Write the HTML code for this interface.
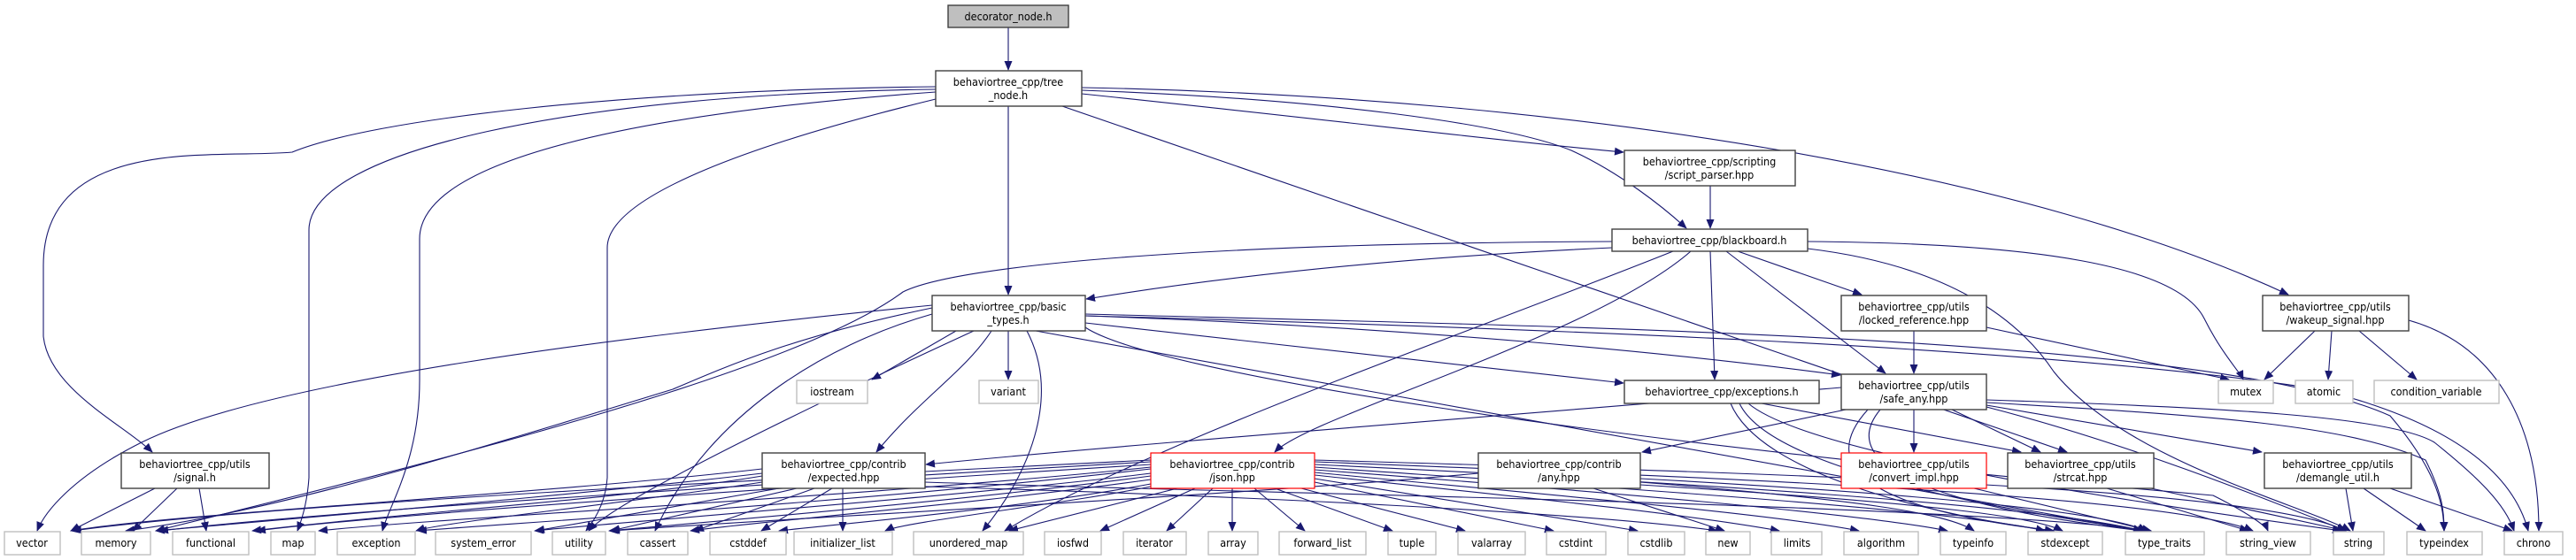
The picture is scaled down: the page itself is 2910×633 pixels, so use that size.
<!DOCTYPE html>
<html><head><meta charset="utf-8"><style>
html,body{margin:0;padding:0;background:#fff;}
svg{display:block;}
text{font-family:"DejaVu Sans Condensed","DejaVu Sans","Liberation Sans",sans-serif;font-size:12.5px;fill:#000;text-anchor:middle;font-stretch:condensed;}
.e{fill:none;stroke:#191970;stroke-width:1.1;marker-end:url(#a);}
.n{fill:#fff;stroke:#404040;stroke-width:1.4;}
.g{fill:#fff;stroke:#bfbfbf;stroke-width:1.4;}
.r{fill:#fff;stroke:#ff0000;stroke-width:1.2;}
</style></head><body>
<svg width="2910" height="633" viewBox="0 0 2910 633" xmlns="http://www.w3.org/2000/svg">
<defs><marker id="a" markerWidth="11" markerHeight="9" refX="10" refY="4.5" orient="auto" markerUnits="userSpaceOnUse"><path d="M0,0 L11,4.5 L0,9z" fill="#191970"/></marker></defs>

<!-- edges -->
<path class="e" d="M1139,31 L1139,79"/>
<path class="e" d="M1057,98 C700,102 420,135 330,172 C250,180 49,150 49,300 L49,380 C55,440 140,480 172,511"/>
<path class="e" d="M1057,101 C650,106 349,170 349,260 L349,540 C347,570 340,590 336,600"/>
<path class="e" d="M1057,104 C720,128 474,180 474,270 L474,430 C474,520 440,570 432,600"/>
<path class="e" d="M1057,112 C860,160 686,220 686,280 L686,540 C684,570 670,590 662,600"/>
<path class="e" d="M1139,120 L1139,333"/>
<path class="e" d="M1222,106 C1500,135 1700,160 1834,172"/>
<path class="e" d="M1222,102 C1500,112 1700,140 1775,170 C1830,195 1880,235 1905,258"/>
<path class="e" d="M1200,120 L2335,511"/>
<path class="e" d="M1222,99 C1800,110 2300,200 2585,333"/>
<path class="e" d="M1932,210 L1932,258"/>
<path class="e" d="M1821,280 C1600,290 1400,310 1227,338"/>
<path class="e" d="M1821,273 C1350,275 1080,300 1020,330 C900,420 500,520 176,600"/>
<path class="e" d="M1890,284 C1650,380 1300,500 1135,600"/>
<path class="e" d="M1910,284 C1800,380 1480,470 1440,511"/>
<path class="e" d="M1932,284 L1937,429"/>
<path class="e" d="M1963,284 L2103,333"/>
<path class="e" d="M1950,284 L2130,422"/>
<path class="e" d="M2042,281 C2200,300 2280,360 2320,420 C2400,520 2600,570 2655,600"/>
<path class="e" d="M2042,273 C2300,275 2460,300 2490,360 C2510,400 2530,420 2534,429"/>
<path class="e" d="M2162,374 L2162,422"/>
<path class="e" d="M2244,370 L2518,429"/>
<path class="e" d="M2615,374 L2558,429"/>
<path class="e" d="M2634,374 L2630,429"/>
<path class="e" d="M2665,374 L2730,429"/>
<path class="e" d="M2721,362 C2820,390 2868,480 2868,600"/>
<!-- basic_types -->
<path class="e" d="M1080,374 L985,429"/>
<path class="e" d="M1139,374 L1139,429"/>
<path class="e" d="M1226,365 L1834,433"/>
<path class="e" d="M1226,357 C1600,370 1900,400 2079,424"/>
<path class="e" d="M1226,357 C1700,370 2300,390 2620,440 C2780,480 2840,540 2856,600"/>
<path class="e" d="M1226,355 C1800,370 2500,380 2700,470 C2760,540 2760,580 2761,600"/>
<path class="e" d="M1160,374 C1200,450 1160,540 1110,600"/>
<path class="e" d="M1120,374 C1090,420 1040,450 990,511"/>
<path class="e" d="M1100,374 C1000,420 700,560 665,600"/>
<path class="e" d="M1170,374 L2420,600"/>
<path class="e" d="M1053,345 C700,380 300,430 160,500 C80,540 50,580 42,600"/>
<path class="e" d="M1053,348 C900,380 830,410 760,440 C500,520 300,580 142,600"/>
<path class="e" d="M1053,355 C930,390 800,470 740,600"/>
<path class="e" d="M1226,370 C1300,420 1800,500 2500,560 C2540,580 2560,595 2562,600"/>
<!-- signal -->
<path class="e" d="M175,552 L80,600"/>
<path class="e" d="M200,552 L150,600"/>
<path class="e" d="M225,552 L233,600"/>
<!-- expected -->
<path class="e" d="M861,530 C600,560 200,580 80,600"/>
<path class="e" d="M861,535 C650,560 400,580 176,600"/>
<path class="e" d="M861,538 C700,565 450,580 285,600"/>
<path class="e" d="M861,545 C700,570 500,590 470,600"/>
<path class="e" d="M880,552 L605,600"/>
<path class="e" d="M900,552 L690,600"/>
<path class="e" d="M920,552 L785,600"/>
<path class="e" d="M940,552 L860,600"/>
<path class="e" d="M952,552 L952,600"/>
<path class="e" d="M1045,545 C1500,560 2200,570 2430,600"/>
<path class="e" d="M1045,550 C1400,560 1800,580 1940,600"/>
<!-- json -->
<path class="e" d="M1300,520 C900,540 300,570 82,600"/>
<path class="e" d="M1300,522 C900,545 400,575 180,600"/>
<path class="e" d="M1300,525 C900,550 450,580 290,600"/>
<path class="e" d="M1300,528 C1000,560 500,585 360,600"/>
<path class="e" d="M1300,530 C1000,565 600,590 472,600"/>
<path class="e" d="M1300,535 C1100,560 700,590 604,600"/>
<path class="e" d="M1300,538 C1100,565 800,590 688,600"/>
<path class="e" d="M1300,542 C1100,570 850,590 780,600"/>
<path class="e" d="M1300,547 C1150,575 950,592 880,600"/>
<path class="e" d="M1300,550 C1200,570 1020,590 1000,600"/>
<path class="e" d="M1330,552 L1140,600"/>
<path class="e" d="M1350,552 L1243,600"/>
<path class="e" d="M1370,552 L1318,600"/>
<path class="e" d="M1392,552 L1392,600"/>
<path class="e" d="M1417,552 L1474,600"/>
<path class="e" d="M1440,552 L1573,600"/>
<path class="e" d="M1470,552 L1655,600"/>
<path class="e" d="M1485,545 L1755,600"/>
<path class="e" d="M1485,541 L1850,600"/>
<path class="e" d="M1485,537 C1700,560 1900,580 2010,600"/>
<path class="e" d="M1485,534 C1700,555 2000,580 2100,600"/>
<path class="e" d="M1485,531 C1800,555 2100,580 2200,600"/>
<path class="e" d="M1485,528 C1800,550 2200,575 2310,600"/>
<path class="e" d="M1485,525 C1900,545 2300,570 2420,600"/>
<path class="e" d="M1485,522 C1950,540 2450,560 2545,600"/>
<path class="e" d="M1485,520 C2000,535 2550,550 2650,600"/>
<!-- any -->
<path class="e" d="M1670,535 C1400,560 900,585 690,600"/>
<path class="e" d="M1800,552 L1948,600"/>
<path class="e" d="M1853,545 C2100,565 2200,580 2230,600"/>
<path class="e" d="M1853,548 C2200,570 2300,585 2330,600"/>
<path class="e" d="M1853,541 C2200,560 2380,580 2425,600"/>
<!-- exceptions -->
<path class="e" d="M1990,456 L2283,511"/>
<path class="e" d="M1955,456 C1990,540 2200,585 2320,600"/>
<path class="e" d="M1965,456 C2000,530 2250,575 2425,600"/>
<path class="e" d="M1975,456 C2050,520 2500,580 2645,600"/>
<!-- safe_any -->
<path class="e" d="M2080,438 C1700,470 1300,500 1046,525"/>
<path class="e" d="M2090,462 L1855,511"/>
<path class="e" d="M2162,463 L2162,511"/>
<path class="e" d="M2205,463 L2305,511"/>
<path class="e" d="M2244,458 L2555,511"/>
<path class="e" d="M2244,455 C2500,470 2650,480 2740,520 C2760,560 2761,580 2761,600"/>
<path class="e" d="M2244,452 C2500,460 2700,470 2750,500 C2800,540 2830,570 2840,600"/>
<path class="e" d="M2124,463 C2060,540 2250,580 2420,600"/>
<path class="e" d="M2244,460 C2400,500 2550,560 2650,600"/>
<path class="e" d="M2110,463 C2040,540 2150,580 2320,600"/>
<!-- convert/strcat/demangle -->
<path class="e" d="M2230,552 L2430,600"/>
<path class="e" d="M2380,552 L2540,600"/>
<path class="e" d="M2430,552 L2650,600"/>
<path class="e" d="M2650,552 L2658,600"/>
<path class="e" d="M2670,552 L2740,600"/>
<path class="e" d="M2700,552 L2838,600"/>

<!-- nodes -->
<rect x="1071" y="6" width="136" height="25" fill="#bfbfbf" stroke="#404040" stroke-width="1.4"/><text x="1139" y="23">decorator_node.h</text>
<rect class="n" x="1057" y="80" width="165" height="40"/><text x="1139" y="97">behaviortree_cpp/tree</text><text x="1139" y="112">_node.h</text>
<rect class="n" x="1835" y="170" width="193" height="40"/><text x="1931" y="187">behaviortree_cpp/scripting</text><text x="1931" y="202">/script_parser.hpp</text>
<rect class="n" x="1821" y="259" width="221" height="25"/><text x="1931" y="276">behaviortree_cpp/blackboard.h</text>
<rect class="n" x="1053" y="334" width="173" height="40"/><text x="1139" y="351">behaviortree_cpp/basic</text><text x="1139" y="366">_types.h</text>
<rect class="n" x="2080" y="334" width="164" height="40"/><text x="2162" y="351">behaviortree_cpp/utils</text><text x="2162" y="366">/locked_reference.hpp</text>
<rect class="n" x="2556" y="334" width="165" height="40"/><text x="2638" y="351">behaviortree_cpp/utils</text><text x="2638" y="366">/wakeup_signal.hpp</text>
<rect class="g" x="900" y="430" width="80" height="26"/><text x="940" y="447">iostream</text>
<rect class="g" x="1106" y="430" width="67" height="26"/><text x="1139" y="447">variant</text>
<rect class="n" x="1835" y="430" width="220" height="26"/><text x="1945" y="447">behaviortree_cpp/exceptions.h</text>
<rect class="n" x="2080" y="423" width="164" height="40"/><text x="2162" y="440">behaviortree_cpp/utils</text><text x="2162" y="455">/safe_any.hpp</text>
<rect class="g" x="2506" y="430" width="62" height="26"/><text x="2537" y="447">mutex</text>
<rect class="g" x="2593" y="430" width="65" height="26"/><text x="2625" y="447">atomic</text>
<rect class="g" x="2682" y="430" width="141" height="26"/><text x="2752" y="447">condition_variable</text>
<rect class="n" x="137" y="512" width="167" height="40"/><text x="220" y="529">behaviortree_cpp/utils</text><text x="220" y="544">/signal.h</text>
<rect class="n" x="861" y="512" width="184" height="40"/><text x="953" y="529">behaviortree_cpp/contrib</text><text x="953" y="544">/expected.hpp</text>
<rect class="r" x="1300" y="512" width="185" height="40"/><text x="1392" y="529">behaviortree_cpp/contrib</text><text x="1392" y="544">/json.hpp</text>
<rect class="n" x="1670" y="512" width="183" height="40"/><text x="1761" y="529">behaviortree_cpp/contrib</text><text x="1761" y="544">/any.hpp</text>
<rect class="r" x="2080" y="512" width="164" height="40"/><text x="2162" y="529">behaviortree_cpp/utils</text><text x="2162" y="544">/convert_impl.hpp</text>
<rect class="n" x="2268" y="512" width="165" height="40"/><text x="2350" y="529">behaviortree_cpp/utils</text><text x="2350" y="544">/strcat.hpp</text>
<rect class="n" x="2558" y="512" width="166" height="40"/><text x="2641" y="529">behaviortree_cpp/utils</text><text x="2641" y="544">/demangle_util.h</text>

<g>
<rect class="g" x="5" y="601" width="63" height="26"/><text x="36" y="618">vector</text>
<rect class="g" x="92" y="601" width="78" height="26"/><text x="131" y="618">memory</text>
<rect class="g" x="195" y="601" width="86" height="26"/><text x="238" y="618">functional</text>
<rect class="g" x="306" y="601" width="50" height="26"/><text x="331" y="618">map</text>
<rect class="g" x="381" y="601" width="88" height="26"/><text x="425" y="618">exception</text>
<rect class="g" x="492" y="601" width="108" height="26"/><text x="546" y="618">system_error</text>
<rect class="g" x="624" y="601" width="60" height="26"/><text x="654" y="618">utility</text>
<rect class="g" x="709" y="601" width="68" height="26"/><text x="743" y="618">cassert</text>
<rect class="g" x="802" y="601" width="86" height="26"/><text x="845" y="618">cstddef</text>
<rect class="g" x="897" y="601" width="111" height="26"/><text x="952" y="618">initializer_list</text>
<rect class="g" x="1032" y="601" width="124" height="26"/><text x="1094" y="618">unordered_map</text>
<rect class="g" x="1180" y="601" width="64" height="26"/><text x="1212" y="618">iosfwd</text>
<rect class="g" x="1269" y="601" width="71" height="26"/><text x="1304" y="618">iterator</text>
<rect class="g" x="1365" y="601" width="56" height="26"/><text x="1393" y="618">array</text>
<rect class="g" x="1445" y="601" width="98" height="26"/><text x="1494" y="618">forward_list</text>
<rect class="g" x="1568" y="601" width="54" height="26"/><text x="1595" y="618">tuple</text>
<rect class="g" x="1647" y="601" width="76" height="26"/><text x="1685" y="618">valarray</text>
<rect class="g" x="1747" y="601" width="67" height="26"/><text x="1780" y="618">cstdint</text>
<rect class="g" x="1839" y="601" width="64" height="26"/><text x="1871" y="618">cstdlib</text>
<rect class="g" x="1927" y="601" width="50" height="26"/><text x="1952" y="618">new</text>
<rect class="g" x="2001" y="601" width="57" height="26"/><text x="2030" y="618">limits</text>
<rect class="g" x="2083" y="601" width="84" height="26"/><text x="2125" y="618">algorithm</text>
<rect class="g" x="2192" y="601" width="74" height="26"/><text x="2229" y="618">typeinfo</text>
<rect class="g" x="2291" y="601" width="84" height="26"/><text x="2333" y="618">stdexcept</text>
<rect class="g" x="2401" y="601" width="89" height="26"/><text x="2445" y="618">type_traits</text>
<rect class="g" x="2515" y="601" width="95" height="26"/><text x="2562" y="618">string_view</text>
<rect class="g" x="2636" y="601" width="57" height="26"/><text x="2664" y="618">string</text>
<rect class="g" x="2719" y="601" width="85" height="26"/><text x="2761" y="618">typeindex</text>
<rect class="g" x="2829" y="601" width="66" height="26"/><text x="2862" y="618">chrono</text>
</g>
</svg>
</body></html>
